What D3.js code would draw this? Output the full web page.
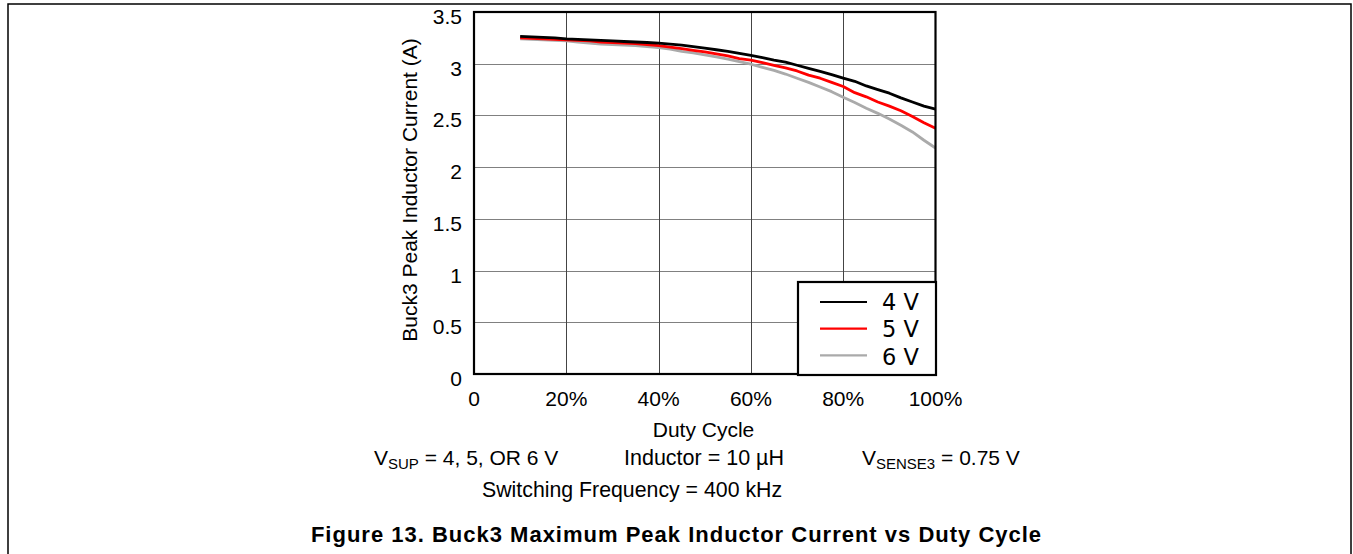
<!DOCTYPE html>
<html><head><meta charset="utf-8">
<script src="https://cdn.jsdelivr.net/npm/d3@7"></script>
<style>html,body{margin:0;padding:0;background:#fff;}svg{display:block;}</style>
</head><body>
<svg id="chart" width="1353" height="554"></svg>
<script>
const duty = [10,12.5,15,17.5,20,22.5,25,27.5,30,32.5,35,37.5,40,42.5,45,47.5,50,52.5,55,57.5,60,62.5,65,67.5,70,72.5,75,77.5,80,82.5,85,87.5,90,92.5,95,97.5,100];
const v4 = [3.265,3.26,3.255,3.25,3.24,3.235,3.23,3.225,3.22,3.215,3.21,3.205,3.20,3.19,3.18,3.165,3.15,3.135,3.12,3.10,3.08,3.06,3.035,3.015,2.985,2.955,2.925,2.895,2.86,2.83,2.785,2.75,2.715,2.67,2.63,2.59,2.56];
const v5 = [3.25,3.245,3.24,3.235,3.23,3.225,3.22,3.21,3.205,3.2,3.195,3.185,3.175,3.16,3.145,3.13,3.115,3.095,3.075,3.05,3.035,3.01,2.985,2.96,2.93,2.89,2.86,2.82,2.78,2.72,2.68,2.63,2.59,2.545,2.49,2.43,2.375];
const v6 = [3.24,3.235,3.23,3.225,3.22,3.21,3.20,3.19,3.185,3.18,3.175,3.165,3.155,3.14,3.12,3.105,3.085,3.065,3.045,3.02,2.995,2.965,2.935,2.9,2.86,2.82,2.775,2.73,2.675,2.625,2.57,2.52,2.465,2.405,2.34,2.26,2.185];
const seriesNames = ["4 V","5 V","6 V"];
const seriesColors = ["#000000","#ff0000","#aaaaaa"];
const xTicks = [0,20,40,60,80,100];
const xTickLabels = ["0","20%","40%","60%","80%","100%"];
const yTicks = [0,0.5,1,1.5,2,2.5,3,3.5];
const yTickLabels = ["0","0.5","1","1.5","2","2.5","3","3.5"];

const svg = d3.select("#chart");
const x = d3.scaleLinear().domain([0,100]).range([474,935.5]);
const y = d3.scaleLinear().domain([0,3.5]).range([374,12]);

// outer frame
svg.append("path").attr("d","M8,554 L8,4 L1351,4 L1351,554").attr("fill","none").attr("stroke","#000").attr("stroke-width",1.5);

// grid
const g = svg.append("g");
g.selectAll("line.h").data(yTicks.slice(1,-1)).join("line")
  .attr("x1",x(0)).attr("x2",x(100)).attr("y1",d=>Math.round(y(d))+0.5).attr("y2",d=>Math.round(y(d))+0.5)
  .attr("stroke","#808080").attr("stroke-width",1);
g.selectAll("line.v").data(xTicks.slice(1,-1)).join("line")
  .attr("y1",y(0)).attr("y2",y(3.5)).attr("x1",d=>Math.round(x(d))+0.5).attr("x2",d=>Math.round(x(d))+0.5)
  .attr("stroke","#444").attr("stroke-width",1);

// series
const line = d3.line().x(d=>x(d[0])).y(d=>y(d[1]));
[v4,v5,v6].map((vals,i)=>({vals,i})).reverse().forEach(({vals,i})=>{
  svg.append("path").datum(duty.map((d,k)=>[d,vals[k]]))
    .attr("d",line).attr("fill","none").attr("stroke",seriesColors[i]).attr("stroke-width",2.8)
    .attr("stroke-linejoin","round");
});

// plot border
svg.append("rect").attr("x",x(0)).attr("y",y(3.5)).attr("width",x(100)-x(0)).attr("height",y(0)-y(3.5))
  .attr("fill","none").attr("stroke","#000").attr("stroke-width",2.2);

// axes labels
const font = "'Liberation Sans', Arial, sans-serif";
svg.append("g").selectAll("text").data(xTicks).join("text")
  .attr("x",d=>x(d)).attr("y",405.5).attr("text-anchor","middle")
  .attr("font-family",font).attr("font-size",21).text((d,i)=>xTickLabels[i]);
svg.append("g").selectAll("text").data(yTicks).join("text")
  .attr("x",462).attr("y",d=>y(d)+12).attr("text-anchor","end")
  .attr("font-family",font).attr("font-size",21).text((d,i)=>yTickLabels[i]);

svg.append("text").attr("x",703.5).attr("y",437).attr("text-anchor","middle")
  .attr("font-family",font).attr("font-size",21).text("Duty Cycle");
svg.append("text").attr("transform","translate(417,190) rotate(-90)").attr("text-anchor","middle")
  .attr("font-family",font).attr("font-size",21).text("Buck3 Peak Inductor Current (A)");

// legend
const lg = svg.append("g");
lg.append("rect").attr("x",798).attr("y",282).attr("width",138).attr("height",93)
  .attr("fill","#fff").attr("stroke","#000").attr("stroke-width",2.2);
seriesNames.forEach((n,i)=>{
  const ly = 302 + i*26.7;
  lg.append("line").attr("x1",820).attr("x2",867).attr("y1",ly).attr("y2",ly)
    .attr("stroke",seriesColors[i]).attr("stroke-width",2.2);
  lg.append("text").attr("x",882).attr("y",310+i*27.3).attr("font-family","'DejaVu Sans', sans-serif")
    .attr("font-size",22.5).text(n);
});

// conditions text
function sub(sel, main, subTxt, rest){
  sel.append("tspan").text(main);
  sel.append("tspan").attr("font-size",15).attr("dy",4).text(subTxt);
  sel.append("tspan").attr("dy",-4).text(rest);
}
const t1 = svg.append("text").attr("x",374).attr("y",465).attr("font-family",font).attr("font-size",21);
sub(t1,"V","SUP"," = 4, 5, OR 6 V");
svg.append("text").attr("x",624).attr("y",465).attr("font-family",font).attr("font-size",21.5).text("Inductor = 10 µH");
const t3 = svg.append("text").attr("x",862).attr("y",465).attr("font-family",font).attr("font-size",21);
sub(t3,"V","SENSE3"," = 0.75 V");
svg.append("text").attr("x",482).attr("y",497).attr("font-family",font).attr("font-size",21.3).text("Switching Frequency = 400 kHz");

svg.append("text").attr("x",676.5).attr("y",542).attr("text-anchor","middle").attr("font-family",font)
  .attr("font-size",22).attr("letter-spacing",1).attr("font-weight","bold").text("Figure 13. Buck3 Maximum Peak Inductor Current vs Duty Cycle");
</script>
</body></html>
